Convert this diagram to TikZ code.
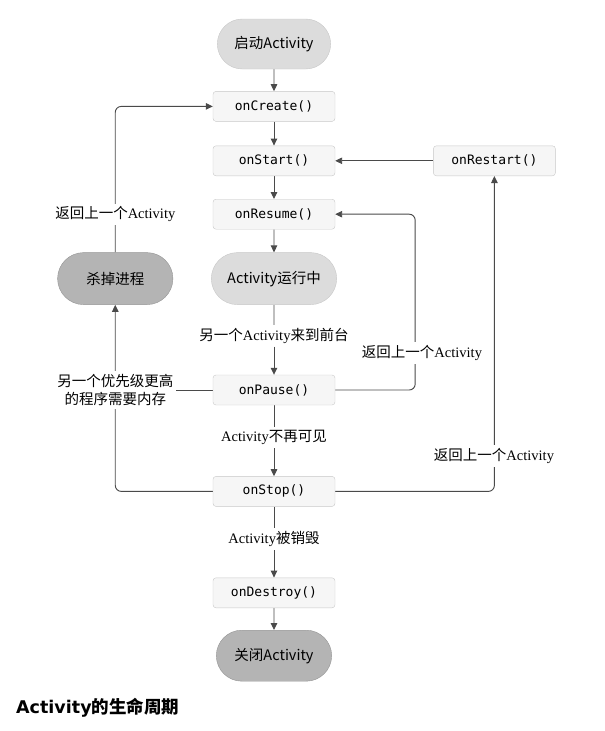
\documentclass[tikz,border=0pt]{standalone}
\usepackage{fontspec}
\usepackage{tikz}
\usepackage{xcolor}
\setmainfont{Liberation Serif}
\newfontfamily\cjk{Noto Sans CJK SC}
\newfontfamily\code{DejaVu Sans Mono}
\newfontfamily\titlefont{DejaVu Sans}
\newcommand\zh[1]{{\cjk #1}}
\usetikzlibrary{shapes.misc, arrows.meta, positioning, backgrounds, calc}
\definecolor{boxfill}{HTML}{F6F6F6}
\definecolor{boxline}{HTML}{C8C8C8}
\definecolor{statelight}{HTML}{DCDCDC}
\definecolor{statedark}{HTML}{B4B4B4}
\definecolor{linegray}{HTML}{4A4A4A}
\tikzset{
	method/.style={rectangle, rounded corners=3pt, draw=boxline, fill=boxfill,
		minimum width=122pt, minimum height=30pt, font=\code\fontsize{13}{15}\selectfont},
	stateA/.style={rounded rectangle, draw=black!22, fill=statelight,
		minimum width=122pt, minimum height=51pt, font=\cjk\fontsize{14.5}{17}\selectfont},
	stateB/.style={stateA, draw=black!42, fill=statedark},
	edgelabel/.style={fill=white, inner sep=3pt, align=center,
		font=\fontsize{14.5}{18}\selectfont},
	link/.style={draw=linegray, line width=0.95pt},
	arrow/.style={link, -{Triangle[length=7pt,width=6.5pt]}},
}
\begin{document}
\begin{tikzpicture}[x=1pt, y=-1pt, node distance=23pt and 38pt]
	\useasboundingbox (0,0) rectangle (605,731);
	% main column
	\node[stateA, minimum width=120pt, minimum height=50pt] (start) at (274,44) {启动Activity};
	\node[method, below=22pt of start] (create) {onCreate()};
	\node[method, below=24pt of create] (startm) {onStart()};
	\node[method, below=of startm] (resume) {onResume()};
	\node[stateA, below=of resume, minimum width=132pt, minimum height=52pt] (running) {Activity运行中};
	\node[method, below=70pt of running] (pause) {onPause()};
	\node[method, below=71pt of pause] (stop) {onStop()};
	\node[method, below=71pt of stop] (destroy) {onDestroy()};
	\node[stateB, below=22pt of destroy] (close) {关闭Activity};
	% side nodes
	\node[method, right=98pt of startm] (restart) {onRestart()};
	\node[stateB, left=of running, minimum height=52pt] (kill) {杀掉进程};
	% labels
	\node[edgelabel] (front) at ($(running.south)!0.5!(pause.north)+(0,-4)$) {\zh{另一个}Activity\zh{来到前台}};
	\node[edgelabel] (hidden) at ($(pause.south)!0.5!(stop.north)+(0,-3)$) {Activity\zh{不再可见}};
	\node[edgelabel] (destroyed) at ($(stop.south)!0.5!(destroy.north)+(0,-3)$) {Activity\zh{被销毁}};
	\node[edgelabel] (backkill) at (kill |- resume) {\zh{返回上一个}Activity};
	\node[edgelabel] (memory) at (kill |- pause) {\zh{另一个优先级更高}\\\zh{的程序需要内存}};
	\node[edgelabel] (backresume) at (422,353) {\zh{返回上一个}Activity};
	\node[edgelabel] (backrestart) at (494,456) {\zh{返回上一个}Activity};
	\node[anchor=west, inner sep=0pt, font=\fontsize{17.5}{20}\selectfont] (title) at (16,708)
		{{\titlefont\bfseries Activity}{\cjk\bfseries 的生命周期}};
	% connectors
	\begin{scope}[on background layer]
		\draw[arrow](start)--(create);\draw[arrow](create)--(startm);
		\draw[arrow](startm)--(resume);\draw[arrow](resume)--(running);
		\draw[link](running)--(front);\draw[arrow](front)--(pause);
		\draw[link](pause)--(hidden);\draw[arrow](hidden)--(stop);
		\draw[link](stop)--(destroyed);\draw[arrow](destroyed)--(destroy);
		\draw[arrow](destroy)--(close);
		\draw[arrow](restart)--(startm);
		\draw[arrow, rounded corners=6pt](pause.east)--++(80,0)|-(resume.east);
		\draw[arrow, rounded corners=6pt](stop.east)-|(restart.south);
		\draw[arrow, rounded corners=6pt](stop.west)-|(kill.south);
		\draw[link](pause.west)--(memory.east);
		\draw[arrow, rounded corners=6pt](kill.north)|-(create.west);
	\end{scope}
\end{tikzpicture}
\end{document}
